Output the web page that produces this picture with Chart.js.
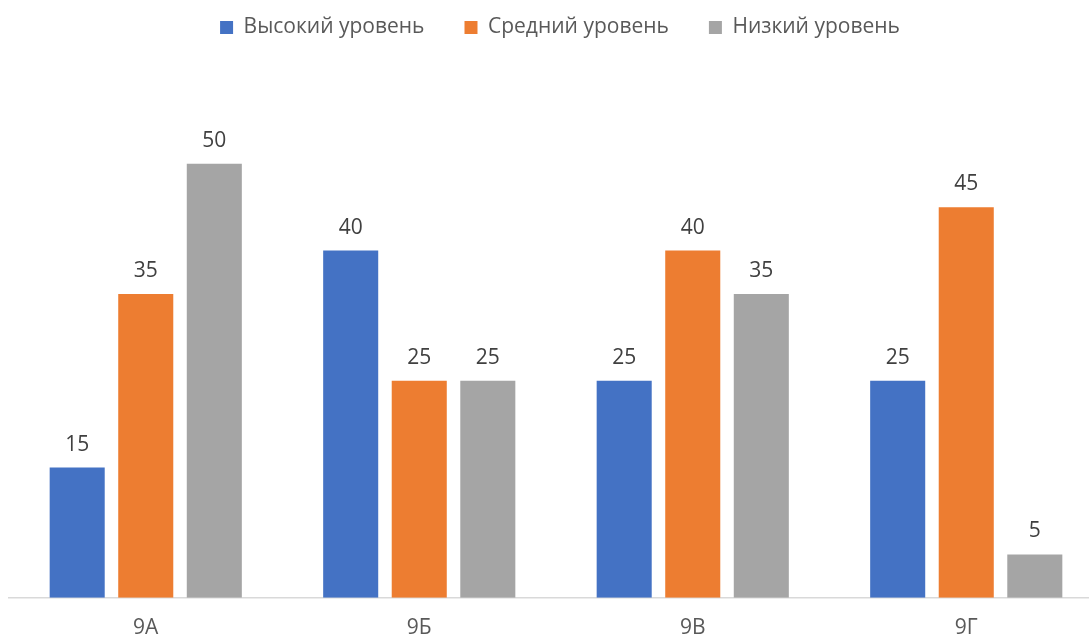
<!DOCTYPE html>
<html>
<head>
<meta charset="utf-8">
<script src="https://cdn.jsdelivr.net/npm/chart.js@4"></script>
<style>
  html, body { margin:0; padding:0; background:#fff; overflow:hidden; }
  #wrap { position:relative; width:1112px; height:659px; }
</style>
</head>
<body>
<div id="wrap"><canvas id="chart"></canvas></div>
<script>
// data
const categories = ['9А', '9Б', '9В', '9Г'];
const seriesNames = ['Высокий уровень', 'Средний уровень', 'Низкий уровень'];
const highValues = [15, 40, 25, 25];
const midValues = [35, 25, 40, 45];
const lowValues = [50, 25, 35, 5];
const seriesColors = ['#4472c4', '#ed7d31', '#a5a5a5'];

const FONT = '"Open Sans", sans-serif';

// draws the value above each bar, using the bar elements from chart.js
const valueLabels = {
  id: 'valueLabels',
  afterDatasetsDraw(chart) {
    const ctx = chart.ctx;
    ctx.save();
    ctx.font = '21px ' + FONT;
    ctx.fillStyle = '#404040';
    ctx.textAlign = 'center';
    ctx.textBaseline = 'alphabetic';
    chart.data.datasets.forEach((ds, i) => {
      chart.getDatasetMeta(i).data.forEach((bar, j) => {
        ctx.fillText(ds.data[j], bar.x, bar.y - 17);
      });
    });
    ctx.restore();
  }
};

// keeps a gap under the legend and nudges it a little to the right
const legendGap = {
  id: 'legendGap',
  beforeInit(chart) {
    const fit = chart.legend.fit;
    chart.legend.fit = function () {
      fit.bind(chart.legend)();
      this.height = 100;
    };
  },
  afterLayout(chart) {
    chart.legend.left += 4;
    chart.legend.right += 4;
  }
};

const datasets = [highValues, midValues, lowValues].map((vals, i) => ({
  label: seriesNames[i],
  data: vals,
  backgroundColor: seriesColors[i],
  categoryPercentage: 0.752,
  barPercentage: 0.803
}));

new Chart(document.getElementById('chart'), {
  type: 'bar',
  data: { labels: categories, datasets },
  options: {
    responsive: true,
    maintainAspectRatio: false,
    animation: false,
    layout: { padding: { left: 9, right: 9, top: -23, bottom: 0 } },
    plugins: {
      legend: {
        position: 'top',
        labels: {
          boxWidth: 13,
          boxHeight: 13,
          padding: 40,
          color: '#595959',
          font: { family: FONT, size: 21 }
        }
      },
      tooltip: { enabled: false }
    },
    scales: {
      x: {
        grid: { display: false, drawTicks: false },
        border: { display: true, color: '#d9d9d9', width: 1.5 },
        ticks: {
          color: '#595959',
          padding: 18,
          font: { family: FONT, size: 21 }
        }
      },
      y: {
        display: false,
        min: 0,
        max: 60,
        ticks: { stepSize: 10 }
      }
    }
  },
  plugins: [valueLabels, legendGap]
});
</script>
</body>
</html>
